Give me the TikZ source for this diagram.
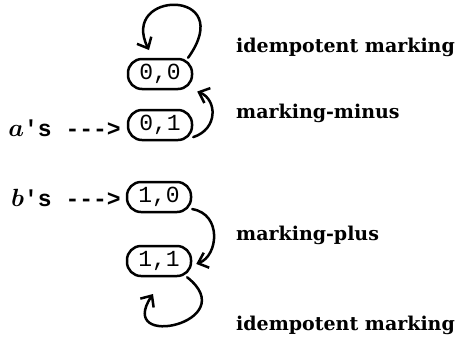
\documentclass[tikz,border=0pt]{standalone}
\usepackage{fontspec}
\usepackage{amsmath,bm}
\setmainfont{DejaVu Serif}
\setmonofont{Liberation Mono}
\usetikzlibrary{arrows.meta}
\tikzset{
  state/.style={draw, line width=2.5pt, rounded corners=14pt, minimum width=64pt, minimum height=30pt,
    inner sep=0pt, font=\fontsize{23pt}{23pt}\ttfamily},
  trans/.style={line width=2.5pt, -{Straight Barb[length=9pt,width=16pt,line width=2.5pt]}},
  lbl/.style={anchor=west, inner sep=0pt, font=\fontsize{19pt}{19pt}\bfseries},
  entry/.style={anchor=east, inner sep=0pt, font=\fontsize{23pt}{23pt}\bfseries}
}
\begin{document}
\begin{tikzpicture}[x=1pt,y=-1pt,line cap=round]
\useasboundingbox (0,0) rectangle (465,341);
\node[state] (n00) at (160,74) {0,0};
\node[state] (n01) at (160,125) {0,1};
\node[state] (n10) at (159,197) {1,0};
\node[state] (n11) at (159,261) {1,1};
\node[entry] (ea) at (121,128) {$\bm{a}$\texttt{'s --->}};
\node[entry] (eb) at (121,198) {$\bm{b}$\texttt{'s --->}};
\node[lbl] (l1) at (236,47) {idempotent marking};
\node[lbl] (l2) at (236,113) {marking-minus};
\node[lbl] (l3) at (236,235) {marking-plus};
\node[lbl] (l4) at (236,325) {idempotent marking};
\coordinate (topend) at (149,50);
\coordinate (botend) at (153,294);
% loops and transitions
\draw[trans] (n00.30) .. controls +(50,-70) and +(-30,-60) .. (topend);
\draw[trans] (n01.-20) .. controls +(25,-8) and +(20,8) .. ([shift={(4pt,-2pt)}]n00.-25);
\draw[trans] (n10.-20) .. controls +(30,5) and +(22,-8) .. ([shift={(4pt,0pt)}]n11.-5);
\draw[trans] (n11.-30) .. controls +(57,45) and +(-38,57) .. (botend);
\end{tikzpicture}
\end{document}
